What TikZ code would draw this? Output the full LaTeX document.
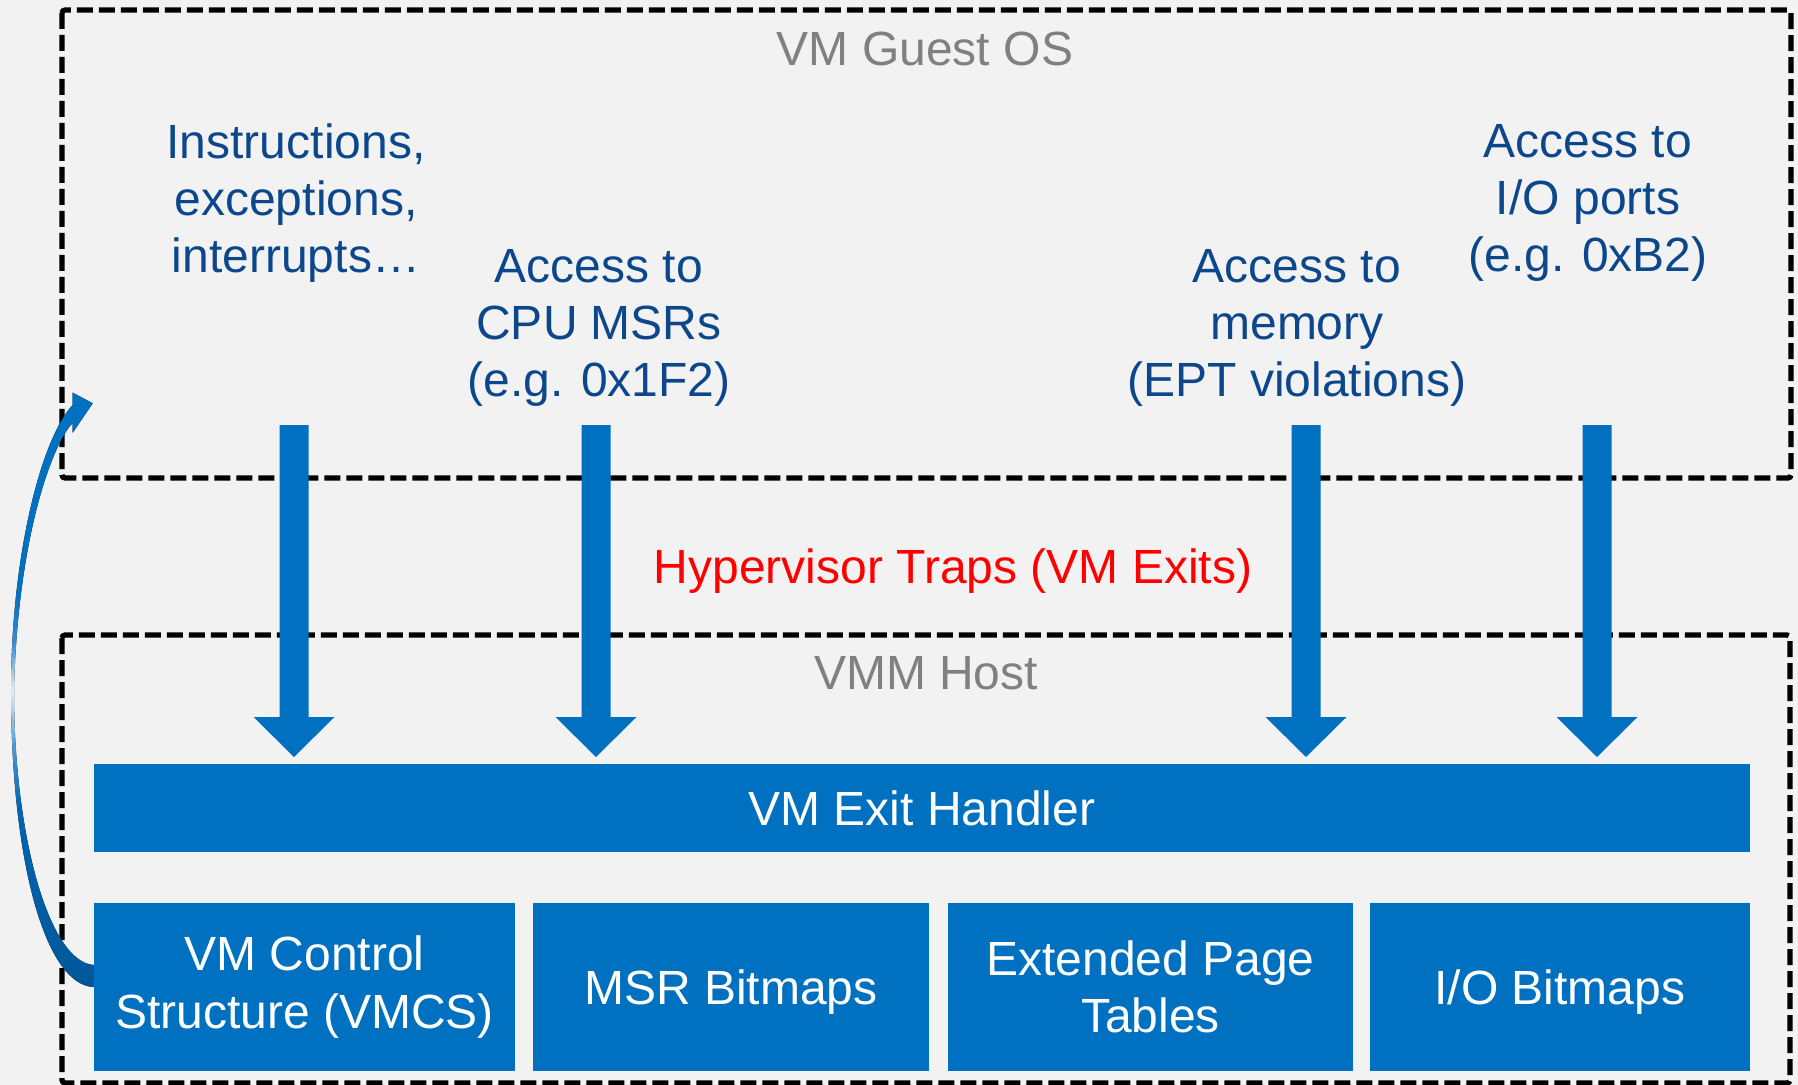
\documentclass[tikz,border=0pt]{standalone}
\usepackage{fontspec}
\setmainfont{Liberation Sans}
\usetikzlibrary{calc}
\definecolor{bgcol}{HTML}{F2F2F2}
\definecolor{boxblue}{HTML}{0070C0}
\definecolor{txtblue}{RGB}{12,71,140}
\definecolor{titlegray}{HTML}{808080}
\definecolor{cdark}{HTML}{00589A}
\definecolor{cmida}{HTML}{0064B0}
\definecolor{cmidb}{HTML}{4A95D2}
\definecolor{clight}{HTML}{E4ECF4}
\definecolor{cmidc}{HTML}{3A8CCE}
\pgfdeclareverticalshading{curvshade}{100bp}{color(0bp)=(cdark); color(25bp)=(cdark); color(40bp)=(cmida); color(45bp)=(cmidb); color(50bp)=(clight); color(54bp)=(cmidc); color(58bp)=(boxblue); color(100bp)=(boxblue)}
\newcommand\bkarrow[2]{%
  \fill[boxblue] ($(#1)+(-14.5,0)$) -- ($(#2)+(-14.5,-40)$) -- ($(#2)+(-40.5,-40)$) -- (#2)
    -- ($(#2)+(40.5,-40)$) -- ($(#2)+(14.5,-40)$) -- ($(#1)+(14.5,0)$) -- cycle;}
\tikzset{
  every node/.style={font=\fontsize{24pt}{28.7pt}\selectfont, inner sep=0pt},
  gtxt/.style={text=txtblue, align=center},
  graytxt/.style={text=titlegray},
  redtxt/.style={text=red},
  container/.style={draw=black, line width=2.6pt, dash pattern=on 8pt off 3pt, rounded corners=1.5pt},
  bluebox/.style={fill=boxblue, text=white, align=center, minimum height=84pt},
  oneline/.style={text height=22pt, text depth=5pt},
}
\begin{document}
\begin{tikzpicture}[x=0.5pt,y=-0.5pt]
\fill[bgcol] (0,0) rectangle (1798,1085);
\useasboundingbox (0,0) rectangle (1798,1085);

% containers
\draw[container] (62,10) rectangle (1791,478);
\draw[container] (62,635) rectangle (1790,1083);

% titles
\node[graytxt] (guest) at (925,49) {VM Guest OS};
\node[graytxt] (host) at (926,673) {VMM Host};
\node[redtxt] (traps) at (953,571) {Hypervisor Traps (VM Exits)};

% guest texts
\node[gtxt] (instr) at (296,203) {Instructions,\\exceptions,\\interrupts…};
\node[gtxt] (msracc) at (599,328) {Access to\\CPU MSRs\\(e.g. 0x1F2)};
\node[gtxt] (memacc) at (1297,328) {Access to\\memory\\(EPT violations)};
\node[gtxt] (ioacc) at (1588,203) {Access to\\I/O ports\\(e.g. 0xB2)};

% host boxes
\node[bluebox, minimum width=828pt, minimum height=44pt] (handler) at (922,808) {VM Exit Handler};
\node[bluebox, minimum width=210.5pt] (vmcs) at (304.5,987) {VM Control\\Structure (VMCS)};
\node[bluebox, oneline, minimum width=198pt] (msrbm) at (731,987) {MSR Bitmaps};
\node[bluebox, minimum width=202.5pt] (ept) at (1150.5,987) {Extended Page\\Tables};
\node[bluebox, oneline, minimum width=190pt] (iobm) at (1560,987) {I/O Bitmaps};

% trap arrows
\coordinate (s1) at (294,425);  \coordinate (t1) at (294,757);
\coordinate (s2) at (596,425);  \coordinate (t2) at (596,757);
\coordinate (s3) at (1306,425); \coordinate (t3) at (1306,757);
\coordinate (s4) at (1597,425); \coordinate (t4) at (1597,757);
\bkarrow{s1}{t1}
\bkarrow{s2}{t2}
\bkarrow{s3}{t3}
\bkarrow{s4}{t4}

% curved return arrow from VMCS back to guest
\coordinate (guestin) at (92.7,403.3);
\fill[shading=curvshade] (vmcs.west) .. controls (45,985) and (11,860) .. (11,690)
  .. controls (11,560) and (40,440) .. (72.7,405) -- (72.7,392.7) -- (guestin)
  -- (72.7,432.7) -- (72.7,423) .. controls (55,440) and (18,530) .. (14,690)
  .. controls (14,840) and (50,962) .. ($(vmcs.west)+(0,-22)$) -- cycle;
\end{tikzpicture}
\end{document}
